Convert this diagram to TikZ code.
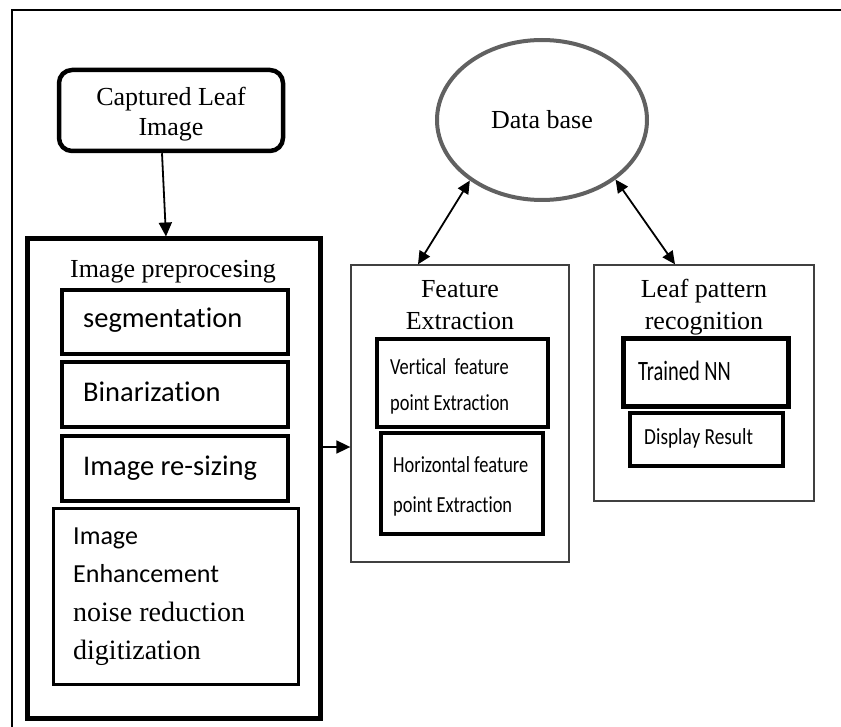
\documentclass[tikz,border=0pt]{standalone}
\usepackage{fontspec}
\setmainfont{Liberation Serif}
\newfontfamily\carl[Ligatures={NoCommon,NoContextual},RawFeature={-liga;-clig;-dlig}]{Carlito}
\newfontfamily\condA[FakeStretch=0.8,Ligatures={NoCommon,NoContextual},RawFeature={-liga;-clig;-dlig}]{Carlito}
\newfontfamily\condB[FakeStretch=0.73,Ligatures={NoCommon,NoContextual},RawFeature={-liga;-clig;-dlig}]{Carlito}
\newfontfamily\condC[FakeStretch=0.84,Ligatures={NoCommon,NoContextual},RawFeature={-liga;-clig;-dlig}]{Carlito}
\usetikzlibrary{arrows.meta,shapes.geometric}
\tikzset{
  thickbox/.style={draw, line width=4pt, inner sep=0pt},
  heavybox/.style={draw, line width=5pt, inner sep=0pt},
  thinbox/.style={draw=black!75, line width=1.3pt, inner sep=0pt},
  lbl/.style={inner sep=0pt, anchor=base west},
  ctr/.style={inner sep=0pt, anchor=base},
  serif/.style={font=\fontsize{26}{30}\selectfont},
  arr/.style={line width=1.8pt, -{Triangle[length=14pt,width=13pt]}},
  darr/.style={line width=1.8pt, {Triangle[length=13pt,width=12pt]}-{Triangle[length=13pt,width=12pt]}}
}
\begin{document}
\begin{tikzpicture}[x=1pt,y=-1pt]
\useasboundingbox (0,0) rectangle (841,727);
% outer frame
\draw[line width=2pt] (12,727) -- (12,10) -- (841,10);

% captured leaf image
\node[draw, line width=4.5pt, rounded corners=13pt, inner sep=0pt, minimum width=224pt, minimum height=81pt] (cap) at (171,110.5) {};
\node[ctr, serif] (capt1) at (171,106) {Captured Leaf};
\node[ctr, serif] (capt2) at (171,136) {Image};

% preprocessing
\node[draw, line width=5pt, inner sep=0pt, minimum width=293pt, minimum height=479pt] (pre) at (173.5,478.5) {};
\node[ctr, serif] (pret) at (173,278) {Image preproce{\carl s}ing};
\node[thickbox, minimum width=226pt, minimum height=64pt] (seg) at (175,322) {};
\node[lbl, font=\carl\fontsize{28.5}{32}\selectfont] (segt) at (83,328) {segmentation};
\node[thickbox, minimum width=226pt, minimum height=65pt] (bin) at (175,394.5) {};
\node[lbl, font=\carl\fontsize{28.5}{32}\selectfont] (bint) at (83,401.7) {Binarization};
\node[thickbox, minimum width=226pt, minimum height=65pt] (rsz) at (175,468.5) {};
\node[lbl, font=\carl\fontsize{28.5}{32}\selectfont] (rszt) at (83,475) {Image re-sizing};
\node[draw, line width=3pt, inner sep=0pt, minimum width=245pt, minimum height=176pt] (enh) at (175.5,596) {};
\node[lbl, font=\carl\fontsize{26}{30}\selectfont] (enh1) at (73,544) {Image};
\node[lbl, font=\carl\fontsize{26}{30}\selectfont] (enh2) at (73,582.7) {Enhancement};
\node[lbl, font=\fontsize{28}{32}\selectfont] (enh3) at (73,621.7) {noise reduction};
\node[lbl, font=\fontsize{28}{32}\selectfont] (enh4) at (73,659) {digitization};

% database
\node[draw=black!62, line width=4pt, ellipse, inner sep=0pt, minimum width=210pt, minimum height=160pt, serif] (db) at (542,120) {Data base};

% feature extraction
\node[thinbox, minimum width=218pt, minimum height=297pt] (fe) at (460,413.5) {};
\node[ctr, serif] (fet1) at (460,298) {Feature};
\node[ctr, serif] (fet2) at (460,330) {Extraction};
\node[thickbox, minimum width=171pt, minimum height=88pt] (vert) at (462.5,383) {};
\node[lbl, font=\condA\fontsize{23}{27}\selectfont] (vert1) at (390,374) {Vertical\ \ feature};
\node[lbl, font=\condA\fontsize{23}{27}\selectfont] (vert2) at (390,410) {point Extraction};
\node[thickbox, minimum width=162pt, minimum height=101pt] (hor) at (462,483.5) {};
\node[lbl, font=\condA\fontsize{23}{27}\selectfont] (hor1) at (393,472.3) {Horizontal feature};
\node[lbl, font=\condA\fontsize{23}{27}\selectfont] (hor2) at (393,512.7) {point Extraction};

% leaf pattern recognition
\node[thinbox, minimum width=220pt, minimum height=236pt] (lpr) at (704,383) {};
\node[ctr, serif] (lpr1) at (704,298) {Leaf pattern};
\node[ctr, serif] (lpr2) at (704,330) {recognition};
\node[heavybox, minimum width=165pt, minimum height=67pt] (tnn) at (705.5,372.5) {};
\node[lbl, font=\condB\fontsize{28}{32}\selectfont] (tnnt) at (638,380.7) {Trained NN};
\node[thickbox, minimum width=153pt, minimum height=53pt] (disp) at (706.5,439.5) {};
\node[lbl, font=\condC\fontsize{23}{27}\selectfont] (dispt) at (644,444.3) {Display Result};

% connectors
\draw[arr] ([xshift=-9pt]cap.south) -- ([xshift=-7.5pt]pre.north);
\coordinate (lvl) at (0,447);
\draw[arr] (pre.east |- lvl) -- (fe.west |- lvl);
\draw[darr] (db.220) -- ([xshift=-42pt]fe.north);
\draw[darr] (db.321) -- ([xshift=-29pt]lpr.north);
\end{tikzpicture}
\end{document}
